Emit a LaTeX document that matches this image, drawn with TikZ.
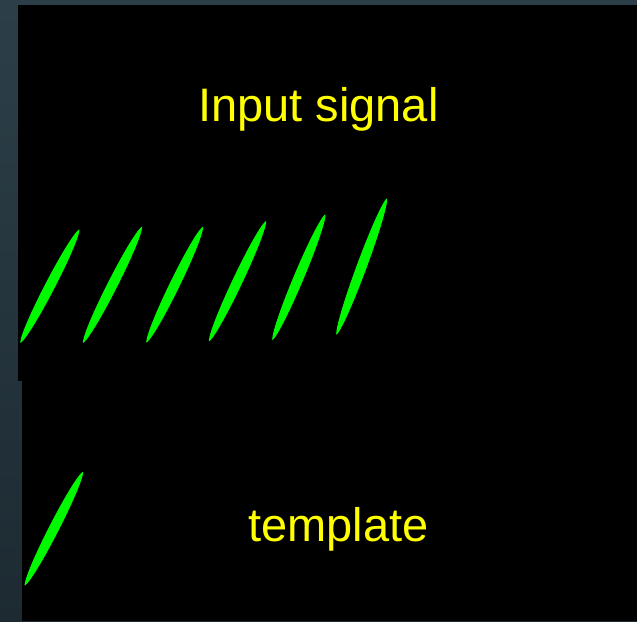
\documentclass[tikz,border=0pt]{standalone}
\usepackage{fontspec}
\setmainfont{Liberation Sans}
\usetikzlibrary{calc}
\definecolor{bgslate}{HTML}{2C3F48}
\definecolor{bgdark}{HTML}{1D2A32}
\definecolor{sig}{HTML}{00F800}
\definecolor{lab}{HTML}{FFFF00}
\def\greenlens(#1)(#2){%
  \path (#1) coordinate (lb) (#2) coordinate (lt)
        ($(lb)!0.12!(lt)$) coordinate (lq) ($(lb)!0.88!(lt)$) coordinate (lr);
  \fill[sigstroke] (lb) .. controls ($(lq)!6pt!90:(lt)$) and ($(lr)!6pt!-90:(lb)$) .. (lt)
        .. controls ($(lr)!6pt!90:(lb)$) and ($(lq)!6pt!-90:(lt)$) .. (lb) -- cycle;}
\begin{document}
\begin{tikzpicture}[x=1pt,y=-1pt,
  sigstroke/.style={fill=sig, draw=sig, line width=1pt, line join=round},
  lbl/.style={text=lab, font=\fontsize{47}{56}\selectfont, inner sep=0pt, anchor=base west}]
\useasboundingbox (0,0) rectangle (637,621);
\shade[top color=bgslate, bottom color=bgdark] (0,0) rectangle (637,621);
\fill[black] (18,5) rectangle (637,381);
\fill[black] (22,381) rectangle (637,621);
\node[lbl] (inp) at (198,121.7) {Input signal};
\node[lbl] (tpl) at (248,541.7) {template};
\greenlens(20.7,342.3)(79,230)
\greenlens(83.3,342.3)(141.7,227.3)
\greenlens(146.7,342)(202.7,227.3)
\greenlens(209.3,340.7)(265.7,221.7)
\greenlens(272.7,339.3)(325,215)
\greenlens(336.7,334)(386.7,199)
\greenlens(25,585)(82.7,472.3)
\end{tikzpicture}
\end{document}
